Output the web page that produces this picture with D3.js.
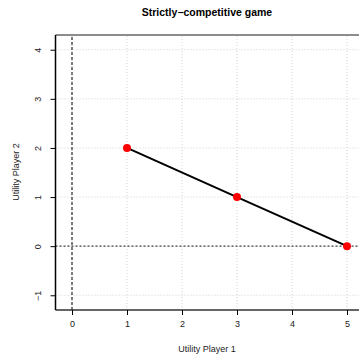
<!DOCTYPE html>
<html>
<head>
    <meta charset="utf-8">
    <title>Strictly-competitive game</title>
    <script type="text/javascript" src="https://cdn.jsdelivr.net/npm/d3@7"></script>
    <style>
        body { margin: 0; background: #fff; }
        svg { display: block; font-family: "Liberation Sans", Arial, sans-serif; }
        .tick text { font-size: 9px; fill: #222; }
        g.axis path.domain { stroke: none; }
    </style>
</head>
<body>
<script type="text/javascript">
// payoff points (Player 1, Player 2)
var utilP1 = [1, 3, 5];
var utilP2 = [2, 1, 0];
var xTicks = [0, 1, 2, 3, 4, 5];
var yTicks = [-1, 0, 1, 2, 3, 4];

var width = 359, height = 356,
    margins = {top: 35, left: 55.5, right: -4.5, bottom: 46};

var svg = d3.select("body").append("svg")
    .attr("width", width)
    .attr("height", height);

var x = d3.scaleLinear().domain([-0.3, 5.3])
    .range([margins.left, width - margins.right]);
var y = d3.scaleLinear().domain([-1.3, 4.3])
    .range([height - margins.bottom, margins.top]);

function fmt(d) {
    return d < 0 ? "\u2212" + Math.abs(d) : String(d);
}

// dotted grid
var grid = svg.append("g").attr("class", "grid");
grid.selectAll("line.gx").data(xTicks).enter().append("line")
    .attr("x1", function (d) { return x(d); })
    .attr("x2", function (d) { return x(d); })
    .attr("y1", y.range()[0]).attr("y2", y.range()[1])
    .attr("stroke", "#d3d3d3").attr("stroke-width", 1)
    .attr("stroke-dasharray", "1,2");
grid.selectAll("line.gy").data(yTicks).enter().append("line")
    .attr("x1", x.range()[0]).attr("x2", x.range()[1])
    .attr("y1", function (d) { return y(d); })
    .attr("y2", function (d) { return y(d); })
    .attr("stroke", "#d3d3d3").attr("stroke-width", 1)
    .attr("stroke-dasharray", "1,2");

// reference lines at zero
svg.append("line")
    .attr("x1", x(0)).attr("x2", x(0))
    .attr("y1", y.range()[0]).attr("y2", y.range()[1])
    .attr("stroke", "#000").attr("stroke-width", 1)
    .attr("stroke-dasharray", "3,2");
svg.append("line")
    .attr("x1", x.range()[0]).attr("x2", x.range()[1])
    .attr("y1", y(0)).attr("y2", y(0))
    .attr("stroke", "#444").attr("stroke-width", 1.2)
    .attr("stroke-dasharray", "2,2");

// box
svg.append("line")
    .attr("x1", x.range()[0]).attr("x2", x.range()[1])
    .attr("y1", y.range()[1]).attr("y2", y.range()[1])
    .attr("stroke", "#666").attr("stroke-width", 1.5);
svg.append("line")
    .attr("x1", x.range()[0]).attr("x2", x.range()[1])
    .attr("y1", y.range()[0]).attr("y2", y.range()[0])
    .attr("stroke", "#333").attr("stroke-width", 1.5);
svg.append("line")
    .attr("x1", x.range()[0]).attr("x2", x.range()[0])
    .attr("y1", y.range()[0]).attr("y2", y.range()[1])
    .attr("stroke", "#000").attr("stroke-width", 1.5);

// axes
svg.append("g")
    .attr("class", "x axis")
    .attr("transform", "translate(0," + y.range()[0] + ")")
    .call(d3.axisBottom(x).tickValues(xTicks).tickSize(5).tickPadding(6)
        .tickFormat(fmt));

var yAxisG = svg.append("g")
    .attr("class", "y axis")
    .attr("transform", "translate(" + x.range()[0] + ",0)")
    .call(d3.axisLeft(y).tickValues(yTicks).tickSize(5).tickFormat(fmt));
yAxisG.selectAll(".tick text")
    .attr("text-anchor", "middle")
    .attr("transform", "translate(-18,0) rotate(-90)")
    .attr("x", 0).attr("y", 0).attr("dy", "0.35em");

// payoff line and points
var line = d3.line()
    .x(function (d, i) { return x(utilP1[i]); })
    .y(function (d, i) { return y(utilP2[i]); });

svg.append("path")
    .datum(utilP1)
    .attr("d", line)
    .attr("fill", "none")
    .attr("stroke", "#000")
    .attr("stroke-width", 2);

svg.selectAll("circle.pt").data(utilP1).enter().append("circle")
    .attr("class", "pt")
    .attr("cx", function (d) { return x(d); })
    .attr("cy", function (d, i) { return y(utilP2[i]); })
    .attr("r", 4)
    .attr("fill", "#ff0000");

// titles
svg.append("text")
    .attr("x", 207).attr("y", 16)
    .attr("text-anchor", "middle")
    .style("font-size", "10.5px").style("font-weight", "bold")
    .style("fill", "#000")
    .text("Strictly\u2212competitive game");

svg.append("text")
    .attr("x", 207).attr("y", 352)
    .attr("text-anchor", "middle")
    .style("font-size", "9px").style("fill", "#222")
    .text("Utility Player 1");

svg.append("text")
    .attr("transform", "translate(19," + 172 + ") rotate(-90)")
    .attr("text-anchor", "middle")
    .style("font-size", "9px").style("fill", "#222")
    .text("Utility Player 2");
</script>
</body>
</html>
